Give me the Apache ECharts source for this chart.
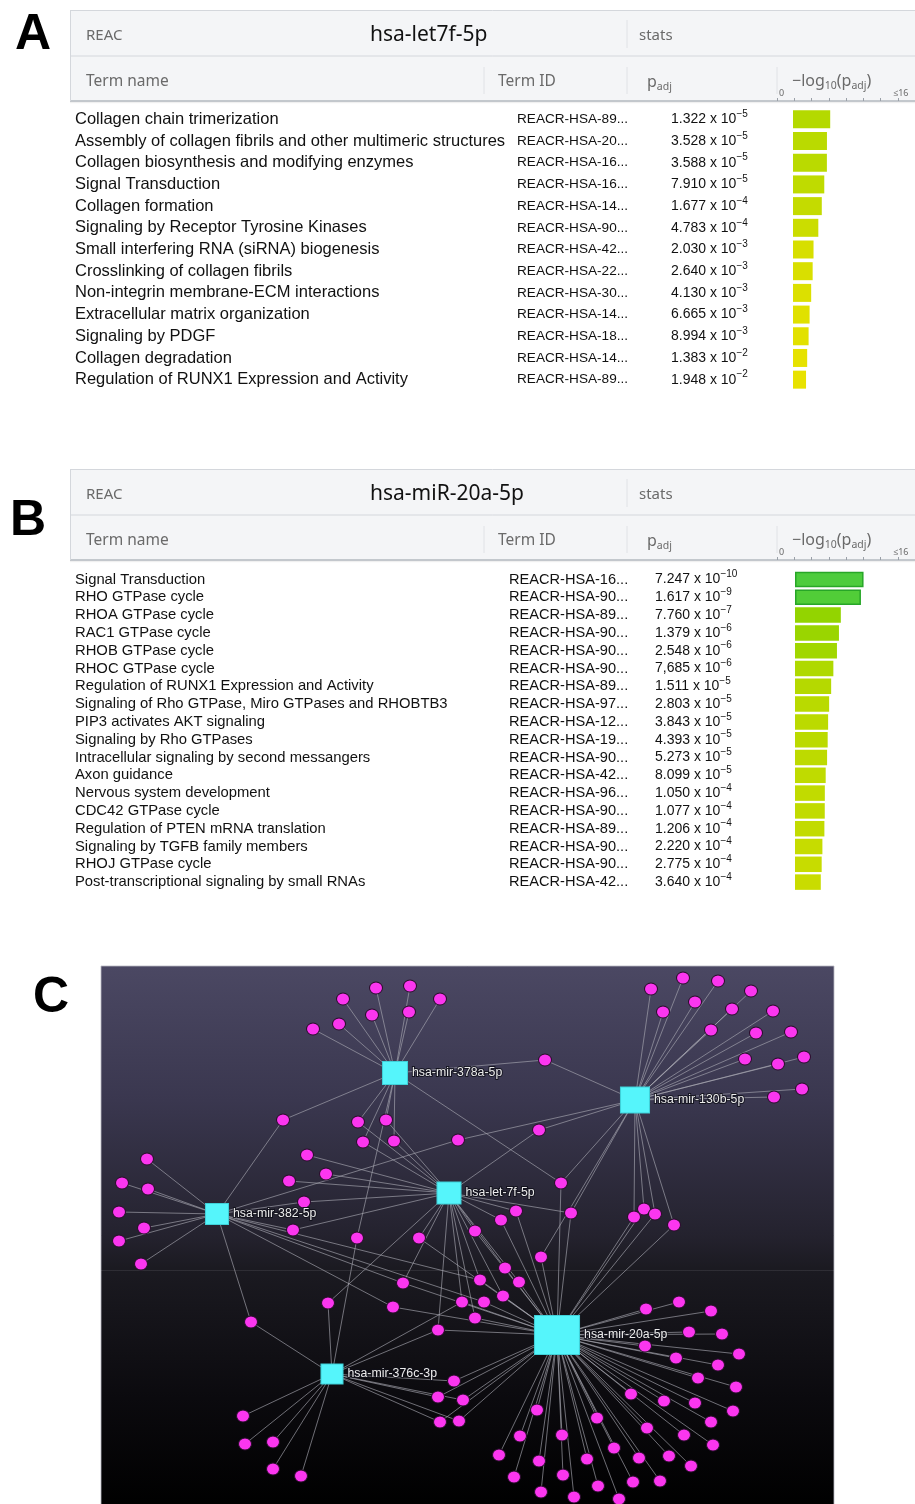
<!DOCTYPE html>
<html>
<head>
<meta charset="utf-8">
<title>Reactome enrichment and miRNA–target network</title>
<script src="https://cdn.jsdelivr.net/npm/echarts@6/dist/echarts.min.js"></script>
<style>
  html, body { margin: 0; padding: 0; background: #ffffff; }
  #chart { width: 915px; height: 1504px; }
</style>
</head>
<body>
<div id="chart"></div>
<script>
// ---------- Panel A: hsa-let7f-5p Reactome terms ----------
const termsA = [
  'Collagen chain trimerization',
  'Assembly of collagen fibrils and other multimeric structures',
  'Collagen biosynthesis and modifying enzymes',
  'Signal Transduction',
  'Collagen formation',
  'Signaling by Receptor Tyrosine Kinases',
  'Small interfering RNA (siRNA) biogenesis',
  'Crosslinking of collagen fibrils',
  'Non-integrin membrane-ECM interactions',
  'Extracellular matrix organization',
  'Signaling by PDGF',
  'Collagen degradation',
  'Regulation of RUNX1 Expression and Activity'
];
const idsA = [
  'REACR-HSA-89...', 'REACR-HSA-20...', 'REACR-HSA-16...', 'REACR-HSA-16...',
  'REACR-HSA-14...', 'REACR-HSA-90...', 'REACR-HSA-42...', 'REACR-HSA-22...',
  'REACR-HSA-30...', 'REACR-HSA-14...', 'REACR-HSA-18...', 'REACR-HSA-14...',
  'REACR-HSA-89...'
];
const padjMantA = ['1.322', '3.528', '3.588', '7.910', '1.677', '4.783', '2.030',
                   '2.640', '4.130', '6.665', '8.994', '1.383', '1.948'];
const padjExpA = [-5, -5, -5, -5, -4, -4, -3, -3, -3, -3, -3, -2, -2];

// ---------- Panel B: hsa-miR-20a-5p Reactome terms ----------
const termsB = [
  'Signal Transduction',
  'RHO GTPase cycle',
  'RHOA GTPase cycle',
  'RAC1 GTPase cycle',
  'RHOB GTPase cycle',
  'RHOC GTPase cycle',
  'Regulation of RUNX1 Expression and Activity',
  'Signaling of Rho GTPase, Miro GTPases and RHOBTB3',
  'PIP3 activates AKT signaling',
  'Signaling by Rho GTPases',
  'Intracellular signaling by second messangers',
  'Axon guidance',
  'Nervous system development',
  'CDC42 GTPase cycle',
  'Regulation of PTEN mRNA translation',
  'Signaling by TGFB family members',
  'RHOJ GTPase cycle',
  'Post-transcriptional signaling by small RNAs'
];
const idsB = [
  'REACR-HSA-16...', 'REACR-HSA-90...', 'REACR-HSA-89...', 'REACR-HSA-90...',
  'REACR-HSA-90...', 'REACR-HSA-90...', 'REACR-HSA-89...', 'REACR-HSA-97...',
  'REACR-HSA-12...', 'REACR-HSA-19...', 'REACR-HSA-90...', 'REACR-HSA-42...',
  'REACR-HSA-96...', 'REACR-HSA-90...', 'REACR-HSA-89...', 'REACR-HSA-90...',
  'REACR-HSA-90...', 'REACR-HSA-42...'
];
const padjMantB = ['7.247', '1.617', '7.760', '1.379', '2.548', '7,685', '1.511', '2.803', '3.843',
                   '4.393', '5.273', '8.099', '1.050', '1.077', '1.206', '2.220', '2.775', '3.640'];
const padjExpB = [-10, -9, -7, -6, -6, -6, -5, -5, -5, -5, -5, -5, -4, -4, -4, -4, -4, -4];

// ---------- Panel C: miRNA – target gene network ----------
// hubs: miRNA nodes, positions in panel units (0..733 across, 0..538 down)
const hubNames = ['hsa-mir-378a-5p', 'hsa-mir-130b-5p', 'hsa-let-7f-5p',
                  'hsa-mir-382-5p', 'hsa-mir-20a-5p', 'hsa-mir-376c-3p'];
const hubCodes = ['A', 'B', 'L', 'K', 'M', 'N'];
const hubX = [294, 534, 348, 116, 456, 231];
const hubY = [107, 134, 227, 248, 369, 408];
// target genes: [x, y, miRNAs that target the gene]
const genes = [
  [309, 20, 'A'], [275, 22, 'A'], [242, 33, 'A'], [339, 33, 'A'], [308, 46, 'A'],
  [271, 49, 'A'], [238, 58, 'A'], [212, 63, 'A'],
  [444, 94, 'AB'], [182, 154, 'AK'], [257, 156, 'AL'], [285, 154, 'AL'],
  [262, 176, 'AL'], [293, 175, 'AL'], [357, 174, 'KB'],
  [550, 23, 'B'], [582, 12, 'B'], [617, 15, 'B'], [562, 46, 'B'], [594, 36, 'B'],
  [650, 25, 'B'], [631, 43, 'B'], [672, 45, 'B'], [610, 64, 'B'], [655, 67, 'B'],
  [690, 66, 'B'], [644, 93, 'B'], [677, 98, 'B'], [703, 91, 'B'], [701, 123, 'B'],
  [673, 131, 'B'],
  [438, 164, 'BL'], [460, 217, 'ABM'], [470, 247, 'LBM'], [415, 245, 'LM'],
  [400, 254, 'LM'], [374, 265, 'LM'], [543, 243, 'BM'], [533, 251, 'BM'],
  [554, 248, 'BM'], [573, 259, 'BM'],
  [206, 189, 'L'], [225, 208, 'L'], [188, 215, 'L'], [203, 236, 'LK'], [192, 264, 'LK'],
  [46, 193, 'K'], [21, 217, 'K'], [47, 223, 'K'], [18, 246, 'K'], [43, 262, 'K'],
  [18, 275, 'K'], [40, 298, 'K'],
  [256, 272, 'AN'], [318, 272, 'LM'], [302, 317, 'KLM'], [227, 337, 'NL'],
  [292, 341, 'KM'], [361, 336, 'LMN'], [150, 356, 'KN'], [337, 364, 'LMN'],
  [440, 291, 'MB'], [404, 302, 'LM'], [379, 314, 'LMK'], [418, 316, 'LM'],
  [402, 330, 'LM'], [383, 336, 'MK'], [374, 352, 'ML'],
  [353, 415, 'NM'], [337, 431, 'NM'], [362, 434, 'NM'], [339, 456, 'NM'], [358, 455, 'NM'],
  [142, 450, 'N'], [144, 478, 'N'], [172, 476, 'N'], [172, 503, 'N'], [200, 510, 'N'],
  [545, 343, 'M'], [578, 336, 'M'], [610, 345, 'M'], [588, 366, 'M'], [621, 368, 'M'],
  [544, 380, 'M'], [638, 388, 'M'], [575, 392, 'M'], [617, 399, 'M'], [597, 412, 'M'],
  [635, 421, 'M'], [530, 428, 'M'], [563, 435, 'M'], [594, 437, 'M'], [632, 445, 'M'],
  [436, 444, 'M'], [496, 452, 'M'], [610, 456, 'M'], [546, 462, 'M'], [419, 470, 'M'],
  [461, 469, 'M'], [583, 469, 'M'], [612, 479, 'M'], [513, 482, 'M'], [398, 489, 'M'],
  [438, 495, 'M'], [486, 493, 'M'], [538, 492, 'M'], [568, 490, 'M'], [590, 500, 'M'],
  [413, 511, 'M'], [462, 509, 'M'], [532, 516, 'M'], [559, 515, 'M'], [497, 520, 'M'],
  [440, 526, 'M'], [473, 531, 'M'], [518, 533, 'M']
];

// ---------- styling helpers ----------
const TXT = 'Liberation Sans, Arial, sans-serif';
const HEAD = 'Noto Sans, Open Sans, sans-serif';
const hubSize = {
  'hsa-mir-378a-5p': [25, 23], 'hsa-mir-130b-5p': [29, 26], 'hsa-let-7f-5p': [24, 22],
  'hsa-mir-382-5p': [23, 21], 'hsa-mir-20a-5p': [45, 39], 'hsa-mir-376c-3p': [22, 20]
};

function negLog(mant, exp) {
  return -(Math.log10(parseFloat(mant.replace(',', '.'))) + exp);
}
const colorStops = [
  [1.5, [236, 227, 0]], [3.5, [200, 220, 0]], [5.0, [178, 217, 0]],
  [6.2, [144, 212, 0]], [9.0, [76, 204, 60]]
];
function colorFor(v) {
  if (v <= colorStops[0][0]) return 'rgb(' + colorStops[0][1].join(',') + ')';
  for (let i = 1; i < colorStops.length; i++) {
    if (v <= colorStops[i][0]) {
      const a = colorStops[i - 1], b = colorStops[i];
      const t = (v - a[0]) / (b[0] - a[0]);
      const c = a[1].map((x, k) => Math.round(x + (b[1][k] - x) * t));
      return 'rgb(' + c.join(',') + ')';
    }
  }
  return 'rgb(' + colorStops[colorStops.length - 1][1].join(',') + ')';
}
function pLabel(m, e) {
  return '{m|' + m + ' x 10}{e|\u2212' + (-e) + '}';
}

function tableHeader(top, title) {
  const g = '#d4d7dc', t = '#6a6a6a';
  const els = [
    { type: 'rect', shape: { x: 70, y: top, width: 850, height: 91 }, style: { fill: '#f4f5f7' } },
    { type: 'line', shape: { x1: 70, y1: top + 0.5, x2: 915, y2: top + 0.5 }, style: { stroke: g } },
    { type: 'line', shape: { x1: 70, y1: top + 46, x2: 915, y2: top + 46 }, style: { stroke: g } },
    { type: 'line', shape: { x1: 70, y1: top + 91, x2: 915, y2: top + 91 }, style: { stroke: '#b3b8bf', lineWidth: 1.5 } },
    { type: 'line', shape: { x1: 70, y1: top + 92.5, x2: 915, y2: top + 92.5 }, style: { stroke: 'rgba(0,0,0,0.06)', lineWidth: 1.5 } },
    { type: 'line', shape: { x1: 70.5, y1: top, x2: 70.5, y2: top + 91 }, style: { stroke: g } },
    { type: 'line', shape: { x1: 627, y1: top + 10, x2: 627, y2: top + 38 }, style: { stroke: '#e0e2e6' } },
    { type: 'line', shape: { x1: 484, y1: top + 57, x2: 484, y2: top + 84 }, style: { stroke: '#e0e2e6' } },
    { type: 'line', shape: { x1: 627, y1: top + 57, x2: 627, y2: top + 84 }, style: { stroke: '#e0e2e6' } },
    { type: 'line', shape: { x1: 777, y1: top + 57, x2: 777, y2: top + 84 }, style: { stroke: '#e0e2e6' } },
    { type: 'text', x: 86, y: top + 26, style: { text: 'REAC', fill: t, font: '15px ' + HEAD, verticalAlign: 'middle' } },
    { type: 'text', x: 370, y: top + 25, style: { text: title, fill: '#111', font: '21px ' + HEAD, verticalAlign: 'middle' } },
    { type: 'text', x: 639, y: top + 26, style: { text: 'stats', fill: t, font: '15px ' + HEAD, verticalAlign: 'middle' } },
    { type: 'text', x: 86, y: top + 72, style: { text: 'Term name', fill: t, font: '15.5px ' + HEAD, verticalAlign: 'middle' } },
    { type: 'text', x: 498, y: top + 72, style: { text: 'Term ID', fill: t, font: '15.5px ' + HEAD, verticalAlign: 'middle' } },
    { type: 'text', x: 647, y: top + 72, style: {
        text: '{a|p}{s|adj}', fill: t, verticalAlign: 'middle',
        rich: { a: { fontSize: 16, fontFamily: HEAD, lineHeight: 22, fill: t, verticalAlign: 'middle' },
                s: { fontSize: 10.5, fontFamily: HEAD, lineHeight: 11, fill: t, verticalAlign: 'bottom' } } } },
    { type: 'text', x: 792, y: top + 71, style: {
        text: '{a|\u2212log}{s|10}{a|(p}{s|adj}{a|)}', fill: t, verticalAlign: 'middle',
        rich: { a: { fontSize: 16, fontFamily: HEAD, lineHeight: 22, fill: t, verticalAlign: 'middle' },
                s: { fontSize: 10.5, fontFamily: HEAD, lineHeight: 12, fill: t, verticalAlign: 'bottom' } } } },
    { type: 'text', x: 779, y: top + 83, style: { text: '0', fill: t, font: '9px ' + HEAD, verticalAlign: 'middle' } },
    { type: 'text', x: 893, y: top + 83, style: { text: '\u226416', fill: t, font: '9px ' + HEAD, verticalAlign: 'middle' } }
  ];
  return els;
}

// ---------- network nodes and links ----------
const nodes = [];
const links = [];
hubNames.forEach((n, i) => {
  nodes.push({
    name: n, value: [hubX[i], hubY[i]], symbol: 'rect', symbolSize: hubSize[n],
    itemStyle: { color: '#55f5fb', borderColor: '#3fd0d8', borderWidth: 1 },
    label: {
      show: true, position: 'right', distance: 4, formatter: '{b}',
      color: '#ececec', fontSize: 12.3, fontFamily: TXT,
      textBorderColor: 'rgba(15,15,25,0.85)', textBorderWidth: 2
    },
    z: 5
  });
});
genes.forEach((g, i) => {
  const id = 'gene' + (i + 1);
  nodes.push({
    name: id, value: [g[0], g[1]], symbol: 'circle', symbolSize: [13, 12],
    itemStyle: { color: '#fb36ef', borderColor: '#2a0f2c', borderWidth: 1 },
    label: { show: false }
  });
  for (const c of g[2]) {
    links.push({ source: hubNames[hubCodes.indexOf(c)], target: id });
  }
});

// ---------- bar data ----------
const valsA = padjMantA.map((m, i) => negLog(m, padjExpA[i]));
const valsB = padjMantB.map((m, i) => negLog(m, padjExpB[i]));
function barData(vals) {
  return vals.map(v => v > 8
    ? { value: v, itemStyle: { borderColor: '#27a627', borderWidth: 1.5 } }
    : { value: v });
}

function labelAxis(grid, data, margin, fontSize, formatter) {
  return {
    type: 'category', gridIndex: grid, inverse: true, data: data, position: 'left',
    axisLine: { show: false }, axisTick: { show: false }, splitLine: { show: false },
    axisLabel: {
      interval: 0, margin: margin, align: 'left', color: '#111',
      fontFamily: TXT, fontSize: fontSize, formatter: formatter,
      rich: {
        m: { fontSize: 14, fontFamily: TXT, color: '#111', lineHeight: 20, verticalAlign: 'middle' },
        e: { fontSize: 10, fontFamily: TXT, color: '#111', lineHeight: 9, verticalAlign: 'top' }
      }
    }
  };
}

const pxA = 8.5, pxB = 8.6;
const option = {
  animation: false,
  backgroundColor: '#ffffff',
  grid: [
    { left: 793, top: 108.5, width: 16 * pxA, height: 282 },
    { left: 777, top: 90, width: 142.4, height: 11 },
    { left: 795, top: 570.6, width: 16 * pxB, height: 320.4 },
    { left: 777, top: 549, width: 142.4, height: 11 },
    { left: 101, top: 966, width: 733, height: 538 }
  ],
  xAxis: [
    { type: 'value', gridIndex: 0, min: 0, max: 16, show: false },
    { type: 'value', gridIndex: 1, min: 0, max: 16, interval: 2, position: 'bottom',
      axisLine: { show: false }, splitLine: { show: false }, axisLabel: { show: false },
      axisTick: { show: true, inside: true, length: 3, lineStyle: { color: '#9aa0a8' } } },
    { type: 'value', gridIndex: 2, min: 0, max: 16, show: false },
    { type: 'value', gridIndex: 3, min: 0, max: 16, interval: 2, position: 'bottom',
      axisLine: { show: false }, splitLine: { show: false }, axisLabel: { show: false },
      axisTick: { show: true, inside: true, length: 3, lineStyle: { color: '#9aa0a8' } } },
    { type: 'value', gridIndex: 4, min: 0, max: 733, show: false }
  ],
  yAxis: [
    labelAxis(0, termsA, 793 - 75, 16.5),
    labelAxis(0, idsA, 793 - 517, 13.6),
    labelAxis(0, padjMantA, 793 - 671, 14, (v, i) => pLabel(padjMantA[i], padjExpA[i])),
    { type: 'value', gridIndex: 1, show: false, min: 0, max: 1 },
    labelAxis(2, termsB, 795 - 75, 14.8),
    labelAxis(2, idsB, 795 - 509, 14.6),
    labelAxis(2, padjMantB, 795 - 655, 14, (v, i) => pLabel(padjMantB[i], padjExpB[i])),
    { type: 'value', gridIndex: 3, show: false, min: 0, max: 1 },
    { type: 'value', gridIndex: 4, min: 0, max: 538, inverse: true, show: false }
  ],
  series: [
    {
      type: 'bar', xAxisIndex: 0, yAxisIndex: 0, barWidth: 18, data: barData(valsA),
      itemStyle: { color: p => colorFor(p.value) }, silent: true
    },
    {
      type: 'bar', xAxisIndex: 2, yAxisIndex: 4, barWidth: 15.5, data: barData(valsB),
      itemStyle: { color: p => colorFor(p.value) }, silent: true
    },
    {
      type: 'graph', coordinateSystem: 'cartesian2d', xAxisIndex: 4, yAxisIndex: 8,
      data: nodes, links: links, edgeSymbol: ['none', 'none'],
      lineStyle: { color: '#a8a8b2', width: 0.8, opacity: 0.8 },
      emphasis: { disabled: true }, silent: true, z: 3
    }
  ],
  graphic: {
    elements: [
      ...tableHeader(10, 'hsa-let7f-5p'),
      ...tableHeader(469, 'hsa-miR-20a-5p'),
      {
        type: 'rect', z: -10, shape: { x: 101, y: 966, width: 733, height: 540 },
        style: {
          fill: new echarts.graphic.LinearGradient(0, 0, 0, 1, [
            { offset: 0, color: '#4b4863' }, { offset: 0.25, color: '#3a374f' },
            { offset: 0.5, color: '#24222e' }, { offset: 0.56, color: '#1b1a21' },
            { offset: 0.8, color: '#0b0a0e' }, { offset: 1, color: '#000000' }
          ]),
          stroke: 'rgba(185,185,195,0.8)', lineWidth: 1
        }
      },
      { type: 'line', z: -9, shape: { x1: 101, y1: 1270.5, x2: 834, y2: 1270.5 },
        style: { stroke: 'rgba(255,255,255,0.09)', lineWidth: 1 } },
      { type: 'text', x: 33, y: 35, style: { text: 'A', font: 'bold 50px ' + TXT, fill: '#000', align: 'center', verticalAlign: 'middle' } },
      { type: 'text', x: 28, y: 521, style: { text: 'B', font: 'bold 50px ' + TXT, fill: '#000', align: 'center', verticalAlign: 'middle' } },
      { type: 'text', x: 51, y: 998, style: { text: 'C', font: 'bold 50px ' + TXT, fill: '#000', align: 'center', verticalAlign: 'middle' } }
    ]
  }
};

const chart = echarts.init(document.getElementById('chart'), null, { renderer: 'canvas' });
chart.setOption(option);
</script>
</body>
</html>
